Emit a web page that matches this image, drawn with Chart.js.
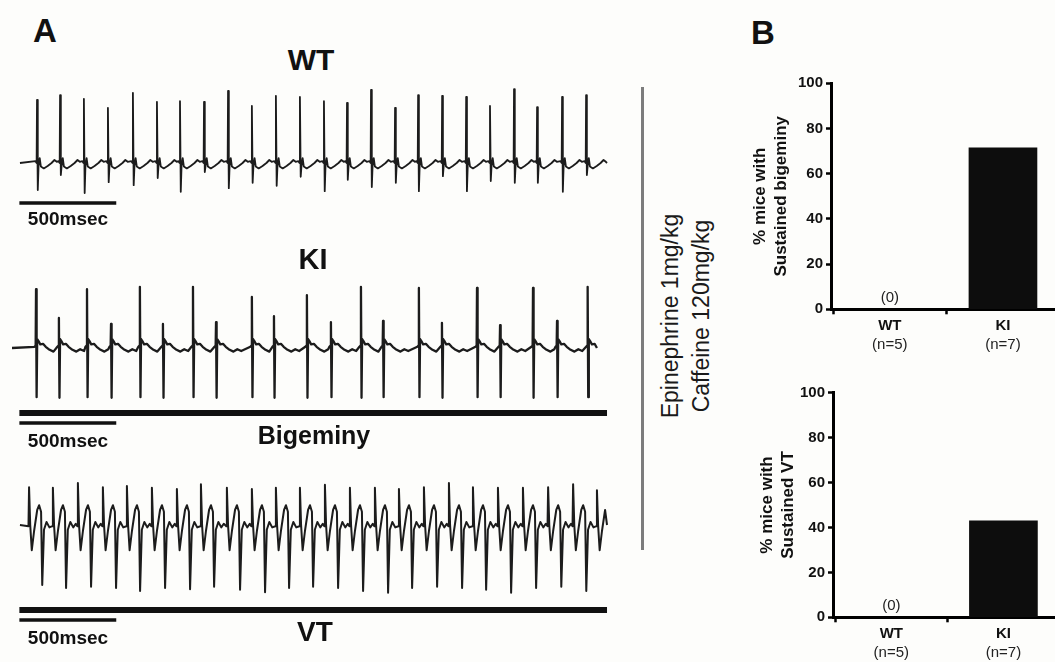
<!DOCTYPE html>
<html><head><meta charset="utf-8">
<script src="https://cdn.jsdelivr.net/npm/chart.js@4"></script>
<style>
html,body{margin:0;padding:0;background:#fdfdfb;}
#wrap{position:relative;width:1055px;height:662px;overflow:hidden;background:#fdfdfb;font-family:"Liberation Sans",Arial,sans-serif;color:#111;}
canvas{position:absolute;}
.t{position:absolute;line-height:1;white-space:nowrap;transform:translate(-50%,-50%);font-weight:bold;color:#111;z-index:5;}
#drug{position:absolute;left:686px;top:316px;transform:translate(-50%,-50%) rotate(-90deg);font-size:23px;line-height:31px;text-align:center;white-space:nowrap;color:#1a1a1a;z-index:5;}
#vline{position:absolute;left:641px;top:87px;width:3px;height:463px;background:#7c7c7c;}
</style></head><body><div id="wrap">
<canvas id="wt" width="620" height="145" style="left:0;top:80px"></canvas>
<canvas id="ki" width="620" height="230" style="left:0;top:230px"></canvas>
<canvas id="vt" width="620" height="170" style="left:0;top:460px"></canvas>
<canvas id="b1" width="315" height="300" style="left:740px;top:60px"></canvas>
<canvas id="b2" width="315" height="292" style="left:740px;top:370px"></canvas>
<div class="t" style="left:45px;top:30px;font-size:33px">A</div>
<div class="t" style="left:763px;top:32px;font-size:33px">B</div>
<div class="t" style="left:311px;top:60px;font-size:30px">WT</div>
<div class="t" style="left:313px;top:259px;font-size:29px">KI</div>
<div class="t" style="left:314px;top:435px;font-size:25px">Bigeminy</div>
<div class="t" style="left:315px;top:632px;font-size:28px">VT</div>
<div class="t" style="left:68px;top:218px;font-size:19px">500msec</div>
<div class="t" style="left:68px;top:440px;font-size:19px">500msec</div>
<div class="t" style="left:68px;top:637px;font-size:19px">500msec</div>
<div id="vline"></div>
<div id="drug">Epinephrine 1mg/kg<br>Caffeine 120mg/kg</div>
</div>
<script>
// ---------- Panel A data (time in ms, amplitude in mV) ----------
const T_MIN = -100, T_MAX = 3100;
const scaleBarMs = [0, 500];
const episodeBarMs = [0, 3033];

const wtTimes = [91,210,333,457,586,710,829,953,1077,1200,1324,1448,1572,1691,1815,1939,2058,2182,2306,2429,2553,2672,2801,2925];
const wtR = [1.05,1.13,1.07,0.92,1.17,1.02,1.03,1.02,1.20,0.95,1.12,1.10,1.03,1.00,1.22,0.92,1.13,1.12,1.10,0.95,1.23,0.93,1.10,1.13];
const wtS = [-0.45,-0.20,-0.50,-0.32,-0.37,-0.25,-0.48,-0.15,-0.42,-0.33,-0.38,-0.23,-0.47,-0.28,-0.40,-0.33,-0.47,-0.22,-0.47,-0.30,-0.33,-0.33,-0.48,-0.20];
const wtShape = [[-8,0.03],[-2,0],[0,'R'],[4,'S'],[8,-0.05],[14,0.08],[20,-0.06],[35,-0.09],[55,-0.05],[75,0.0],[90,0.05],[102,0.02]];

const kiTimes = [86,204,349,473,622,741,896,1015,1200,1314,1484,1608,1763,1877,2062,2181,2362,2481,2651,2775,2933];
const kiR = [0.98,0.50,0.98,0.40,1.02,0.40,1.02,0.43,0.85,0.53,0.88,0.43,1.02,0.45,1.00,0.42,1.00,0.38,1.00,0.45,1.02];
const kiS = [-0.82,-0.83,-0.82,-0.83,-0.82,-0.83,-0.82,-0.83,-0.82,-0.83,-0.83,-0.82,-0.83,-0.82,-0.82,-0.83,-0.82,-0.82,-0.83,-0.82,-0.82];
const kiShape = [[-8,0.02],[-2,0.04],[0,'R'],[3,'S'],[6,0.15],[12,0.12],[22,0.06],[36,0.07],[50,0.02],[70,-0.03],[90,-0.06],[110,-0.02],[130,-0.05]];

const vtTimes = [50,173,302,431,555,684,813,937,1071,1200,1324,1448,1577,1706,1835,1959,2088,2217,2341,2470,2599,2729,2858,2981];
const vtR = [0.63,0.62,0.70,0.63,0.65,0.62,0.60,0.68,0.62,0.60,0.62,0.62,0.67,0.62,0.62,0.60,0.63,0.70,0.63,0.62,0.62,0.63,0.68,0.58];
const vtS = [-1.00,-1.05,-1.03,-1.05,-1.10,-1.05,-1.07,-1.03,-1.08,-1.12,-1.05,-1.03,-1.05,-1.10,-1.13,-1.05,-1.03,-1.05,-1.08,-1.13,-1.05,-1.03,-1.10,null];
const vtShape = [[-3,-0.02],[0,'R'],[6,0.0],[14,-0.42],[26,-0.1],[42,0.25],[52,0.33],[62,0.22],[68,'S'],[77,-0.08],[90,0.05],[105,-0.04],[118,0.02]];

// ---------- Panel B data ----------
const categories = ['WT', 'KI'];
const nLabels = ['(n=5)', '(n=7)'];
const bigeminyPct = [0, 71.4];
const vtPct = [0, 42.9];
const yTicksMax = 100, yTicksStep = 20;

Chart.defaults.font.family = '"Liberation Sans", Arial, sans-serif';
Chart.defaults.color = '#111';

function buildTrace(times, R, S, shape, tStart, tEnd) {
  const pts = [{x: tStart, y: 0}];
  times.forEach((t, i) => {
    const next = i + 1 < times.length ? times[i + 1] : tEnd + 1000;
    shape.forEach(([dt, v]) => {
      const y = v === 'R' ? R[i] : v === 'S' ? S[i] : v;
      if (y === null || y === undefined) return;
      const x = t + dt;
      if (x <= pts[pts.length - 1].x) return;
      if (x >= next - 10 || x >= tEnd) return;
      pts.push({x, y});
    });
  });
  pts.push({x: tEnd, y: 0});
  return pts;
}

function hbar(range, y, w) {
  return {data: [{x: range[0], y}, {x: range[1], y}], borderColor: '#111', borderWidth: w, clip: false, borderCapStyle: 'butt'};
}

function traceChart(id, trace, lw, extra, yMin, yMax) {
  return new Chart(document.getElementById(id), {
    type: 'line',
    data: {datasets: [{data: trace, borderColor: '#1c1c1c', borderWidth: lw, clip: false}].concat(extra)},
    options: {
      responsive: false, animation: false, devicePixelRatio: 1,
      layout: {padding: 0},
      plugins: {legend: {display: false}, tooltip: {enabled: false}},
      elements: {point: {radius: 0}, line: {tension: 0, borderJoinStyle: 'round'}},
      scales: {
        x: {type: 'linear', display: false, min: T_MIN, max: T_MAX},
        y: {display: false, min: yMin, max: yMax}
      }
    }
  });
}

traceChart('wt', buildTrace(wtTimes, wtR, wtS, wtShape, 3, 3033), 1.8,
  [hbar(scaleBarMs, -0.667, 3.5)], -1.0333, 1.3833);
traceChart('ki', buildTrace(kiTimes, kiR, kiS, kiShape, -38, 2981), 2.3,
  [hbar(episodeBarMs, -1.083, 6), hbar(scaleBarMs, -1.25, 3.5)], -1.8667, 1.9667);
traceChart('vt', buildTrace(vtTimes, vtR, vtS, vtShape, 3, 3033), 2,
  [hbar(episodeBarMs, -1.417, 6), hbar(scaleBarMs, -1.583, 3.5)], -1.75, 1.0833);

const annot = (values) => ({
  id: 'annot',
  afterDraw(chart) {
    const {ctx, scales: {x, y}} = chart;
    ctx.save();
    ctx.font = '15px "Liberation Sans", Arial, sans-serif';
    ctx.fillStyle = '#222';
    ctx.textAlign = 'center';
    ctx.textBaseline = 'middle';
    categories.forEach((c, i) => {
      const px = x.getPixelForValue(i);
      ctx.fillText(nLabels[i], px, y.bottom + 36);
      if (values[i] === 0) ctx.fillText('(0)', px, y.getPixelForValue(0) - 11);
    });
    ctx.restore();
  }
});

function barChart(id, values, title, padTop, yW, xH, titlePad) {
  return new Chart(document.getElementById(id), {
    type: 'bar',
    data: {datasets: [{
      data: values.map((v, i) => ({x: i, y: v})),
      backgroundColor: '#0d0d0d', borderWidth: 0, barThickness: 68
    }]},
    plugins: [annot(values)],
    options: {
      responsive: false, animation: false, devicePixelRatio: 1,
      layout: {padding: {top: padTop, left: 0, right: 0, bottom: 0}},
      plugins: {legend: {display: false}, tooltip: {enabled: false}},
      scales: {
        x: {
          type: 'linear', min: -0.52, max: 1.46, offset: false,
          afterBuildTicks: (s) => { s.ticks = categories.map((c, i) => ({value: i})); },
          afterFit: (s) => { s.height = xH; },
          ticks: {callback: (v) => categories[v], font: {size: 15, weight: 'bold'}, color: '#111', padding: 3, autoSkip: false, maxRotation: 0},
          grid: {drawOnChartArea: false, drawTicks: true, tickLength: 5, tickWidth: 2.5, tickColor: '#000'},
          border: {display: true, color: '#000', width: 3}
        },
        y: {
          min: 0, max: yTicksMax,
          afterFit: (s) => { s.width = yW; },
          ticks: {stepSize: yTicksStep, font: {size: 15, weight: 'bold'}, color: '#111', padding: 3},
          grid: {drawOnChartArea: false, drawTicks: true, tickLength: 5, tickWidth: 2.5, tickColor: '#000'},
          border: {display: true, color: '#000', width: 3},
          title: {display: true, text: title, font: {size: 17, weight: 'bold', lineHeight: 1.24}, color: '#111', padding: {top: titlePad, bottom: 0}}
        }
      }
    }
  });
}

barChart('b1', bigeminyPct, ['% mice with', 'Sustained bigeminy'], 23.3, 91, 50.7, 9.5);
barChart('b2', vtPct, ['% mice with', 'Sustained VT'], 22.7, 93, 44.7, 16.5);
</script>
</body></html>
